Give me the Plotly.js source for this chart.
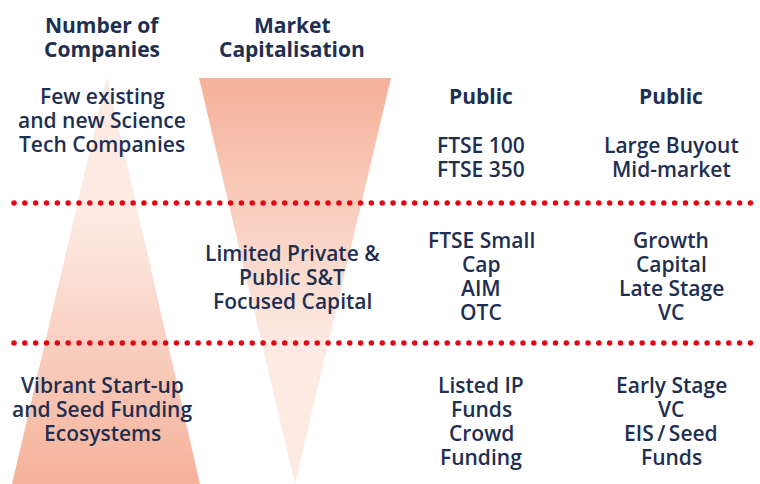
<!DOCTYPE html>
<html>
<head>
<meta charset="utf-8">
<script src="https://cdn.plot.ly/plotly-3.0.1.min.js"></script>
<style>html,body{margin:0;padding:0;background:#fff;}#chart{width:760px;height:484px;}</style>
</head>
<body>
<div id="chart"></div>
<script>
// ---- content ----
const columnHeaders = [["Number of", "Companies"], ["Market", "Capitalisation"]];
const tierLabels = [
  ["Few existing", "and new Science", "Tech Companies"],
  ["Limited Private &", "Public S&T", "Focused Capital"],
  ["Vibrant Start-up", "and Seed Funding", "Ecosystems"]
];
const publicHeaders = ["Public", "Public"];
const publicMarkets = [
  ["FTSE 100", "FTSE 350"],
  ["FTSE Small", "Cap", "AIM", "OTC"],
  ["Listed IP", "Funds", "Crowd", "Funding"]
];
const privateMarkets = [
  ["Large Buyout", "Mid-market"],
  ["Growth", "Capital", "Late Stage", "VC"],
  ["Early Stage", "VC", "EIS\u2009/\u2009Seed", "Funds"]
];

// ---- geometry (pixel-like axis units, y downward) ----
const W = 760, H = 484;
const navy = "#1e2f52";
const red = "#e30613";
const pale = "#fdeae3";
const salmon = "#f5b199";

const numTri = {x: [12, 107, 200, 12], y: [484, 77, 484, 484]};
const capTri = {x: [199, 391, 295, 199], y: [78, 78, 484, 78]};
const dividerY = [203, 343];

const traces = [];
traces.push({
  type: "scatter", mode: "lines", x: numTri.x, y: numTri.y,
  fill: "toself", line: {width: 0, color: "rgba(0,0,0,0)"},
  fillgradient: {type: "vertical", start: 77, stop: 484,
    colorscale: [[0, pale], [0.35, pale], [1, salmon]]},
  hoverinfo: "skip", showlegend: false
});
traces.push({
  type: "scatter", mode: "lines", x: capTri.x, y: capTri.y,
  fill: "toself", line: {width: 0, color: "rgba(0,0,0,0)"},
  fillgradient: {type: "vertical", start: 78, stop: 484,
    colorscale: [[0, salmon], [0.65, pale], [1, pale]]},
  hoverinfo: "skip", showlegend: false
});

// dotted dividers
const dotStart = 14, dotStep = 10.83;
dividerY.forEach(yv => {
  const xs = [], ys = [];
  for (let xv = dotStart; xv <= W; xv += dotStep) { xs.push(xv); ys.push(yv); }
  traces.push({type: "scatter", mode: "markers", x: xs, y: ys,
    marker: {size: 5.5, color: red, line: {width: 0}},
    hoverinfo: "skip", showlegend: false});
});

const ann = [];
const bold = {family: "Open Sans", size: 21, color: navy, weight: 700};
const semi = {family: "Open Sans", size: 21, color: navy, weight: 600};
const LH = 24;
function addLines(lines, x, yFirst, font) {
  lines.forEach((t, i) => {
    ann.push({text: t, x: x, y: yFirst + i * LH, xref: "x", yref: "y", showarrow: false,
      xanchor: "center", yanchor: "middle", align: "center", font: font});
  });
}
const colX = [102, 292, 481, 671];
addLines(columnHeaders[0], colX[0], 24.5, bold);
addLines(columnHeaders[1], colX[1], 24.5, bold);
addLines(tierLabels[0], colX[0], 96, semi);
addLines(tierLabels[1], colX[1], 252.5, semi);
addLines(tierLabels[2], colX[0], 384.5, semi);
addLines([publicHeaders[0]], colX[2], 96, bold);
addLines([publicHeaders[1]], colX[3], 96, bold);
addLines(publicMarkets[0], colX[2], 145, semi);
addLines(privateMarkets[0], colX[3], 145, semi);
addLines(publicMarkets[1], colX[2], 240, semi);
addLines(privateMarkets[1], colX[3], 240, semi);
addLines(publicMarkets[2], colX[2], 384.5, semi);
addLines(privateMarkets[2], colX[3], 384.5, semi);

const layout = {
  width: W, height: H,
  margin: {l: 0, r: 0, t: 0, b: 0},
  paper_bgcolor: "#fff", plot_bgcolor: "#fff",
  xaxis: {range: [0, W], visible: false, fixedrange: true},
  yaxis: {range: [H, 0], visible: false, fixedrange: true},
  annotations: ann,
  showlegend: false
};
Plotly.newPlot("chart", traces, layout, {staticPlot: true, displayModeBar: false});
</script>
</body>
</html>
